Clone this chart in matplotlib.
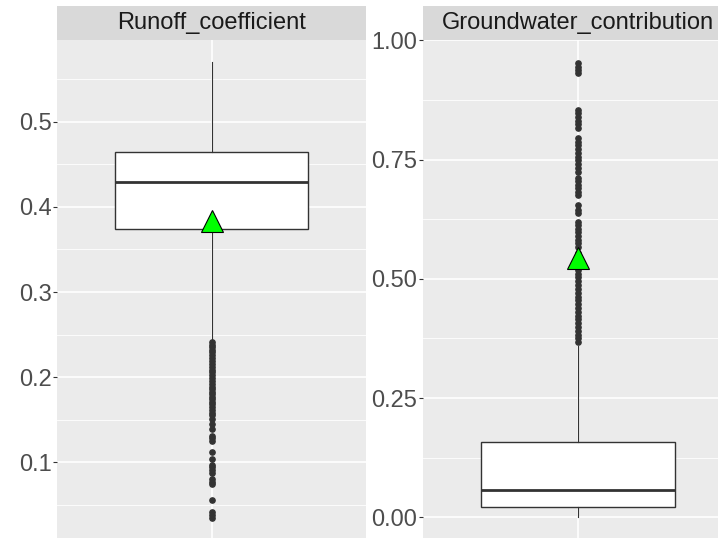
import numpy as np
import matplotlib.pyplot as plt
from matplotlib.ticker import FixedLocator

plt.rcParams['font.family'] = ['Liberation Sans', 'DejaVu Sans']

# Panel titles
panels = ['Runoff_coefficient', 'Groundwater_contribution']

# Box statistics
runoff_stats = dict(q1=0.374, med=0.429, q3=0.464, whislo=0.243, whishi=0.570, mean=0.383)
gw_stats = dict(q1=0.021, med=0.057, q3=0.157, whislo=0.0, whishi=0.360, mean=0.544)

# Outliers (estimated)
runoff_out = [0.241, 0.238, 0.235, 0.232, 0.229, 0.226, 0.222, 0.219, 0.216, 0.212,
              0.209, 0.206, 0.202, 0.199, 0.196, 0.192, 0.189, 0.186, 0.183, 0.180,
              0.177, 0.174, 0.171, 0.168, 0.165, 0.162, 0.158, 0.155, 0.151, 0.145,
              0.139, 0.131, 0.128, 0.125, 0.112, 0.104, 0.097, 0.094, 0.091, 0.088,
              0.080, 0.077, 0.074, 0.056, 0.042, 0.038, 0.035]
gw_out = [0.952, 0.945, 0.938, 0.931,
          0.855, 0.847, 0.840, 0.832, 0.824, 0.816,
          0.795, 0.788, 0.780, 0.772, 0.764, 0.756, 0.750,
          0.740, 0.733, 0.725,
          0.712, 0.705, 0.697, 0.690, 0.682, 0.676,
          0.655, 0.645, 0.638,
          0.620, 0.612, 0.605, 0.598, 0.590, 0.582, 0.575, 0.566,
          0.555, 0.545, 0.535,
          0.527, 0.519, 0.511, 0.503, 0.495, 0.487, 0.479, 0.471, 0.463, 0.455,
          0.447, 0.439, 0.431, 0.423, 0.415, 0.407, 0.399, 0.391, 0.383, 0.375, 0.368]

runoff_ticks = [0.1, 0.2, 0.3, 0.4, 0.5]
runoff_minor = [0.05, 0.15, 0.25, 0.35, 0.45, 0.55]
runoff_labels = ['0.1', '0.2', '0.3', '0.4', '0.5']
runoff_lim = (0.0111, 0.596)
gw_ticks = [0.0, 0.25, 0.5, 0.75, 1.0]
gw_minor = [0.125, 0.375, 0.625, 0.875]
gw_labels = ['0.00', '0.25', '0.50', '0.75', '1.00']
gw_lim = (-0.0434, 1.001)

W, H = 718, 538
fig = plt.figure(figsize=(W / 100, H / 100), dpi=100)


def px_axes(x0, x1, y0, y1):
    # pixel box (top-left origin) -> figure axes
    return fig.add_axes([x0 / W, 1 - y1 / H, (x1 - x0) / W, (y1 - y0) / H])


def draw_panel(xs, stats, fliers, ticks, minor, labels, lim, title):
    ax = px_axes(xs[0], xs[1], 40, 538)
    st = dict(stats)
    st['fliers'] = fliers
    ax.bxp([st], positions=[1], widths=0.75, showmeans=True, patch_artist=True,
           showcaps=False,
           boxprops=dict(facecolor='white', edgecolor='#333333', linewidth=1.0),
           medianprops=dict(color='#333333', linewidth=2.0),
           whiskerprops=dict(color='#333333', linewidth=0.8),
           flierprops=dict(marker='o', markerfacecolor='#333333', markeredgecolor='#333333',
                           markersize=3.8, linestyle='none'),
           meanprops=dict(marker='^', markerfacecolor='#00FF00', markeredgecolor='black',
                          markersize=15.5, markeredgewidth=0.8))
    ax.set_facecolor('#EBEBEB')
    for s in ax.spines.values():
        s.set_visible(False)
    ax.set_ylim(*lim)
    ax.set_xlim(0.4, 1.6)
    ax.set_yticks(ticks)
    ax.set_yticklabels(labels)
    ax.yaxis.set_minor_locator(FixedLocator(minor))
    ax.set_xticks([1])
    ax.set_xticklabels([])
    ax.tick_params(axis='x', length=0)
    ax.tick_params(axis='y', which='major', length=3, width=0.8, color='#333333',
                   labelsize=17, labelcolor='#4D4D4D', pad=1)
    ax.tick_params(axis='y', which='minor', length=0)
    ax.grid(True, which='major', color='white', linewidth=1.2)
    ax.grid(True, which='minor', axis='y', color='white', linewidth=0.6)
    ax.set_axisbelow(True)

    sx = px_axes(xs[0], xs[1], 6, 40)
    sx.set_facecolor('#D9D9D9')
    sx.set_xticks([])
    sx.set_yticks([])
    for s in sx.spines.values():
        s.set_visible(False)
    sx.text(0.5, 0.5, title, ha='center', va='center', fontsize=17, color='#1A1A1A',
            transform=sx.transAxes)
    return ax


draw_panel((57, 366), runoff_stats, runoff_out, runoff_ticks, runoff_minor,
           runoff_labels, runoff_lim, panels[0])
draw_panel((423, 733), gw_stats, gw_out, gw_ticks, gw_minor, gw_labels, gw_lim, panels[1])

fig.savefig('out.png', dpi=100, facecolor='white')
